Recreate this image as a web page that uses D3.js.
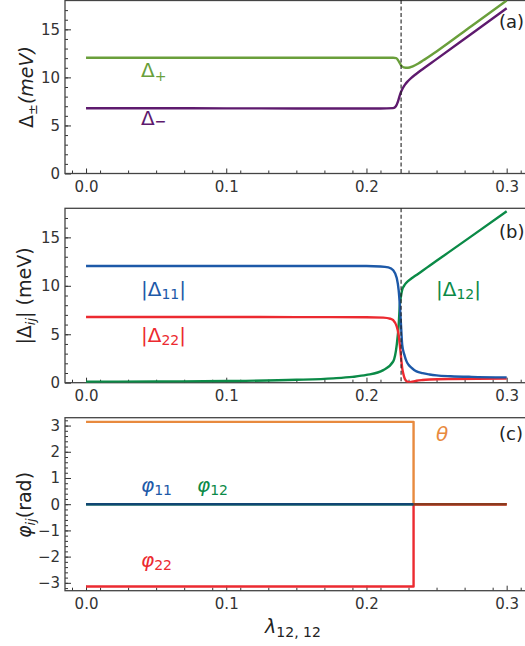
<!DOCTYPE html>
<html><head><meta charset="utf-8">
<script src="https://cdn.jsdelivr.net/npm/d3@7"></script>
<style>body{margin:0;background:#fff} svg{display:block}</style>
</head><body><div class="graph"></div>
<script>
// values, x = lambda_{12,12}
const lamPlus = [0, 0.05, 0.1, 0.15, 0.2, 0.21, 0.219, 0.2212, 0.2225, 0.2235, 0.2247, 0.2265, 0.2296, 0.233, 0.237, 0.24, 0.25, 0.275, 0.3];
const deltaPlus = [12.05, 12.05, 12.05, 12.05, 12.05, 12.05, 12.04, 12.0, 11.8, 11.55, 11.25, 11.05, 11.0, 11.15, 11.45, 11.72, 12.7, 15.35, 18.0];
const lamMinus = [0, 0.05, 0.1, 0.15, 0.2, 0.21, 0.219, 0.221, 0.2225, 0.2235, 0.2247, 0.226, 0.2275, 0.2295, 0.232, 0.235, 0.24, 0.25, 0.275, 0.3];
const deltaMinus = [6.79, 6.79, 6.78, 6.77, 6.76, 6.76, 6.8, 7.0, 7.5, 8.0, 8.5, 8.9, 9.25, 9.6, 9.95, 10.3, 10.85, 11.9, 14.55, 17.2];

const lam11 = [0, 0.05, 0.1, 0.15, 0.2, 0.21, 0.2156, 0.2191, 0.2216, 0.223, 0.2238, 0.2247, 0.2255, 0.227, 0.2286, 0.23, 0.232, 0.234, 0.2357, 0.24, 0.245, 0.25, 0.26, 0.275, 0.3];
const delta11 = [12.05, 12.05, 12.05, 12.05, 12.04, 12.0, 11.9, 11.6, 10.8, 9.5, 8.0, 5.8, 3.9, 2.9, 2.2, 1.85, 1.55, 1.32, 1.17, 0.98, 0.85, 0.76, 0.67, 0.6, 0.55];
const lam22 = [0, 0.05, 0.1, 0.15, 0.2, 0.212, 0.217, 0.2191, 0.2216, 0.223, 0.2238, 0.2247, 0.2255, 0.2265, 0.2275, 0.229, 0.231, 0.2335, 0.2357, 0.24, 0.245, 0.26, 0.3];
const delta22 = [6.78, 6.78, 6.78, 6.77, 6.76, 6.72, 6.6, 6.45, 5.8, 4.9, 3.9, 2.6, 1.5, 0.8, 0.35, 0.12, 0.05, 0.12, 0.2, 0.28, 0.33, 0.38, 0.42];
const lam12 = [0, 0.05, 0.1, 0.15, 0.1764, 0.19, 0.2, 0.212, 0.2191, 0.2216, 0.223, 0.2238, 0.2247, 0.2255, 0.2268, 0.2286, 0.232, 0.236, 0.24, 0.245, 0.25, 0.275, 0.3];
const delta12 = [0.1, 0.12, 0.17, 0.3, 0.45, 0.6, 0.8, 1.3, 2.2, 3.9, 6.0, 8.0, 9.0, 9.6, 10.0, 10.35, 10.75, 11.15, 11.56, 12.07, 12.58, 15.13, 17.7];

const lamStep = [0, 0.2336, 0.2336, 0.3];
const theta = [Math.PI, Math.PI, 0, 0];
const phi22 = [-Math.PI, -Math.PI, 0, 0];
const lamFlat = [0, 0.2336];
const phi11 = [0, 0];
const phi12 = [0, 0];
const lamTail = [0.2336, 0.3];
const phiTail = [0, 0];

const transitionLam = 0.2247;
const xTicks = [0, 0.1, 0.2, 0.3];
const yTicksGap = [0, 5, 10, 15];
const yTicksPhase = [-3, -2, -1, 0, 1, 2, 3];

const width = 525, height = 646;
const left = 65, right = 527.7;
const font = "DejaVu Sans, sans-serif";

const svg = d3.select(".graph").append("svg")
    .attr("width", width)
    .attr("height", height)
    .style("font-family", font);

const x = d3.scaleLinear().domain([-0.015, 0.315]).range([left, right]);

const pts = (xs, ys) => xs.map((v, i) => [v, ys[i]]);

function panel(id, top, bottom, yDomain, yTicks, yMinorStep, fmt) {
    const y = d3.scaleLinear().domain(yDomain).range([bottom, top]);
    const g = svg.append("g");

    g.append("clipPath").attr("id", "clip" + id)
      .append("rect").attr("x", left).attr("y", top)
      .attr("width", right - left).attr("height", bottom - top);

    // minor ticks
    const minorY = d3.range(yDomain[0], yDomain[1] + 1e-9, yMinorStep)
        .map(v => Math.round(v / yMinorStep) * yMinorStep)
        .filter(v => v > yDomain[0] && v < yDomain[1]);
    g.append("g").attr("transform", `translate(${left},0)`)
      .call(d3.axisLeft(y).tickValues(minorY).tickSize(-3).tickFormat(""))
      .call(a => a.select(".domain").remove());
    const minorX = d3.range(-0.01, 0.315, 0.02).map(v => +v.toFixed(2));
    g.append("g").attr("transform", `translate(0,${bottom})`)
      .call(d3.axisBottom(x).tickValues(minorX).tickSize(-3).tickFormat(""))
      .call(a => a.select(".domain").remove());

    g.append("g").attr("transform", `translate(${left},0)`)
      .call(d3.axisLeft(y).tickValues(yTicks).tickSize(-6).tickPadding(5).tickFormat(fmt))
      .call(a => a.select(".domain").remove())
      .style("font-size", "15px");
    g.append("g").attr("transform", `translate(0,${bottom})`)
      .call(d3.axisBottom(x).tickValues(xTicks).tickSize(-5).tickPadding(8).tickFormat(d3.format(".1f")))
      .call(a => a.select(".domain").remove())
      .style("font-size", "15px");

    g.selectAll(".tick line").attr("stroke", "#333");
    g.selectAll(".tick text").attr("fill", "#333").style("font-family", font);

    g.append("rect")
      .attr("x", left).attr("y", top)
      .attr("width", right - left).attr("height", bottom - top)
      .attr("fill", "none").attr("stroke", "#444").attr("stroke-width", 1.3);

    const plot = g.append("g").attr("clip-path", `url(#clip${id})`);
    return {y, g, plot};
}

function drawLine(p, data, color, curve) {
    p.plot.append("path")
      .datum(data)
      .attr("fill", "none")
      .attr("stroke", color)
      .attr("stroke-width", 2.4)
      .attr("stroke-linejoin", "round")
      .attr("d", d3.line().x(d => x(d[0])).y(d => p.y(d[1])).curve(curve || d3.curveMonotoneX));
}

function label(g, xPos, yPos, color, parts, size) {
    const t = g.append("text").attr("x", xPos).attr("y", yPos)
      .attr("fill", color).style("font-size", size + "px");
    parts.forEach(pt => {
        const s = t.append("tspan").text(pt.t);
        if (pt.sub) s.style("font-size", (size * 0.7) + "px").attr("dy", pt.dy || 4);
        if (pt.up) s.attr("dy", pt.up);
        if (pt.it) s.style("font-style", "italic");
        if (pt.bold) s.style("font-weight", "bold");
    });
    return t;
}

function vdash(p, top, bottom) {
    p.g.append("line")
      .attr("x1", x(transitionLam)).attr("x2", x(transitionLam))
      .attr("y1", top).attr("y2", bottom)
      .attr("stroke", "#222").attr("stroke-width", 1.1)
      .attr("stroke-dasharray", "4,2.5");
}

// (a)
const pa = panel("a", 0.5, 173.5, [0, 18], yTicksGap, 1, d3.format("d"));
drawLine(pa, pts(lamPlus, deltaPlus), "#6a9f3b");
drawLine(pa, pts(lamMinus, deltaMinus), "#5e1a6e");
vdash(pa, 0, 173.5);
label(pa.g, 141, 77, "#6a9f3b", [{t: "Δ"}, {t: "+", sub: true, dy: 4}], 20);
label(pa.g, 141, 125, "#5e1a6e", [{t: "Δ"}, {t: "−", sub: true, dy: 1, bold: true}], 20);
label(pa.g, 499, 28, "#222", [{t: "(a)"}], 18);

// (b)
const pb = panel("b", 208.3, 382.7, [0, 18], yTicksGap, 1, d3.format("d"));
drawLine(pb, pts(lam12, delta12), "#0b8a47");
drawLine(pb, pts(lam22, delta22), "#ec2a30");
drawLine(pb, pts(lam11, delta11), "#1d59a8");
vdash(pb, 208.3, 382.7);
label(pb.g, 141, 296, "#1d59a8", [{t: "|Δ"}, {t: "11", sub: true, dy: 3}, {t: "|", up: -3}], 20);
label(pb.g, 141, 342, "#ec2a30", [{t: "|Δ"}, {t: "22", sub: true, dy: 3}, {t: "|", up: -3}], 20);
label(pb.g, 436, 296, "#0b8a47", [{t: "|Δ"}, {t: "12", sub: true, dy: 3}, {t: "|", up: -3}], 20);
label(pb.g, 499, 238, "#222", [{t: "(b)"}], 18);

// (c)
const pc = panel("c", 417.7, 590.7, [-3.3, 3.3], yTicksPhase, 0.2, d3.format("d"));
drawLine(pc, pts(lamStep, theta), "#e88a3e", d3.curveLinear);
drawLine(pc, pts(lamStep, phi22), "#ec2a30", d3.curveLinear);
drawLine(pc, pts(lamFlat, phi12), "#0b8a47", d3.curveLinear);
drawLine(pc, pts(lamFlat, phi11), "#114673", d3.curveLinear);
drawLine(pc, pts(lamTail, phiTail), "#8b3a1e", d3.curveLinear);
label(pc.g, 436, 441, "#e88a3e", [{t: "θ", it: true}], 20);
label(pc.g, 499, 440, "#222", [{t: "(c)"}], 18);
label(pc.g, 141, 492, "#1d59a8", [{t: "φ", it: true}, {t: "11", sub: true, dy: 3}], 20);
label(pc.g, 197, 492, "#0b8a47", [{t: "φ", it: true}, {t: "12", sub: true, dy: 3}], 20);
label(pc.g, 141, 567, "#ec2a30", [{t: "φ", it: true}, {t: "22", sub: true, dy: 3}], 20);

// axis titles
function ytitle(cx, cy, parts) {
    const t = svg.append("text")
      .attr("transform", `translate(${cx},${cy}) rotate(-90)`)
      .attr("text-anchor", "middle").attr("dy", "0.35em")
      .attr("fill", "#222").style("font-size", "19px");
    parts.forEach(pt => {
        const s = t.append("tspan").text(pt.t);
        if (pt.sub) s.style("font-size", "13px").attr("dy", pt.dy);
        if (pt.up) s.attr("dy", pt.up);
        if (pt.it) s.style("font-style", "italic");
    });
}
ytitle(26, 87, [{t: "Δ"}, {t: "±", sub: true, dy: 4}, {t: "(meV)", it: true, up: -4}]);
ytitle(24, 296, [{t: "|Δ"}, {t: "ij", sub: true, dy: 4, it: true}, {t: "| (meV)", up: -4}]);
ytitle(24, 505, [{t: "φ", it: true}, {t: "ij", sub: true, dy: 4, it: true}, {t: "(rad)", up: -4}]);

svg.append("text")
  .attr("x", 293).attr("y", 633).attr("text-anchor", "middle")
  .attr("fill", "#222").style("font-size", "19px")
  .call(t => {
      t.append("tspan").text("λ").style("font-style", "italic");
      t.append("tspan").text("12, 12").style("font-size", "14px").attr("dy", 4);
  });
</script>
</body></html>
